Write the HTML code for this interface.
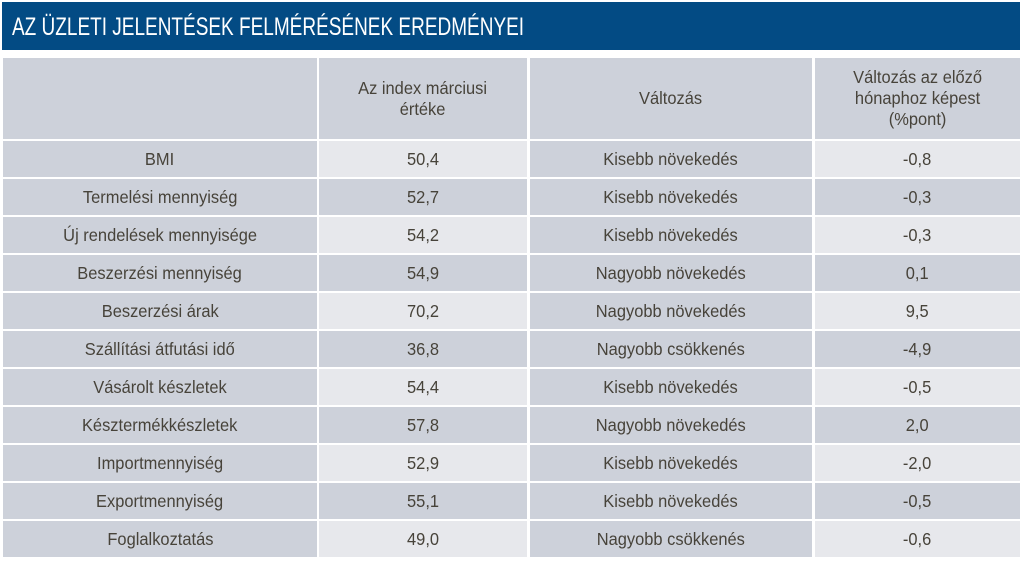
<!DOCTYPE html>
<html><head><meta charset="utf-8"><style>
body{margin:0;width:1024px;height:563px;background:#fff;overflow:hidden;font-family:"Liberation Sans",sans-serif;}
.t{position:absolute;left:2px;top:2px;width:1018px;height:48px;background:#034b84;color:#fff;font-size:25px;line-height:50px;padding-left:10px;box-sizing:border-box}
.t span{display:inline-block;transform:scaleX(0.76);transform-origin:0 50%;white-space:nowrap}
.c{position:absolute;display:flex;align-items:center;justify-content:center;text-align:center;color:#47433a;font-size:17.5px;line-height:21px;box-sizing:border-box}
.c span{display:inline-block;transform:scaleX(0.94);white-space:nowrap}
.g{background:#cdd1da}.l{background:#e7e8ec}
</style></head><body>
<div class="t"><span>AZ ÜZLETI JELENTÉSEK FELMÉRÉSÉNEK EREDMÉNYEI</span></div>
<div id="tb"></div>
<script>
var cols=[[3,314],[319,208],[530,282],[815,205]];
var rows=[["BMI","50,4","Kisebb növekedés","-0,8"],["Termelési mennyiség","52,7","Kisebb növekedés","-0,3"],["Új rendelések mennyisége","54,2","Kisebb növekedés","-0,3"],["Beszerzési mennyiség","54,9","Nagyobb növekedés","0,1"],["Beszerzési árak","70,2","Nagyobb növekedés","9,5"],["Szállítási átfutási idő","36,8","Nagyobb csökkenés","-4,9"],["Vásárolt készletek","54,4","Kisebb növekedés","-0,5"],["Késztermékkészletek","57,8","Nagyobb növekedés","2,0"],["Importmennyiség","52,9","Kisebb növekedés","-2,0"],["Exportmennyiség","55,1","Kisebb növekedés","-0,5"],["Foglalkoztatás","49,0","Nagyobb csökkenés","-0,6"]];
var h=["","Az index márciusi<br>értéke","Változás","Változás az előző<br>hónaphoz képest<br>(%pont)"];
var s="";
for(var j=0;j<4;j++){s+='<div class="c g" style="left:'+cols[j][0]+'px;top:58px;width:'+cols[j][1]+'px;height:81px"><span>'+h[j]+'</span></div>';}
for(var i=0;i<rows.length;i++){var y=141+i*38;for(var j=0;j<4;j++){var cl=(j%2==1&&i%2==0)?'l':'g';s+='<div class="c '+cl+'" style="left:'+cols[j][0]+'px;top:'+y+'px;width:'+cols[j][1]+'px;height:36px"><span>'+rows[i][j]+'</span></div>';}}
document.getElementById('tb').innerHTML=s;
</script>
</body></html>
